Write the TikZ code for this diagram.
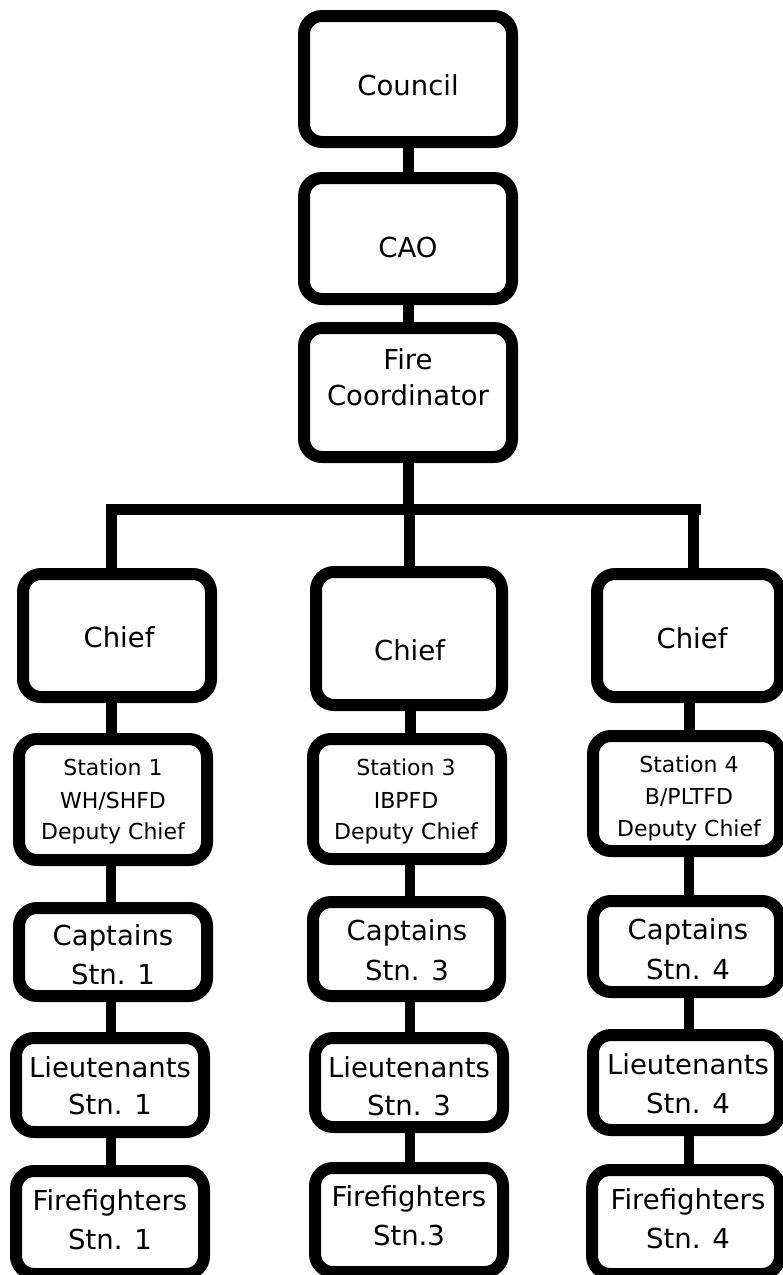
\documentclass[tikz,border=0pt]{standalone}
\usepackage{fontspec}
\setmainfont{DejaVu Sans}
\begin{document}
\begin{tikzpicture}[x=1pt,y=-1pt,
  orgbox/.style={draw=black, line width=12pt, rounded corners=18pt, fill=white, inner sep=0pt},
  big/.style={font=\fontsize{27.5}{36}\selectfont, anchor=base, inner sep=0pt},
  small/.style={font=\fontsize{22}{32}\selectfont, anchor=base, inner sep=0pt},
  link/.style={line width=11pt, line cap=butt},
  thin link/.style={line width=10pt, line cap=butt}]
\useasboundingbox (0,0) rectangle (783,1275);
\clip (0,0) rectangle (783,1275);

% top column
\node[orgbox, minimum width=208pt, minimum height=126pt] (council) at (408,79) {};
\node[orgbox, minimum width=208pt, minimum height=121pt] (cao) at (408,238.5) {};
\node[orgbox, minimum width=208pt, minimum height=129pt] (fc) at (408,392.5) {};

% chiefs
\node[orgbox, minimum width=188pt, minimum height=123pt] (chief1) at (117,635.5) {};
\node[orgbox, minimum width=186pt, minimum height=133pt] (chief3) at (409,638.5) {};
\node[orgbox, minimum width=183pt, minimum height=123pt] (chief4) at (688.5,635.5) {};

% deputies
\node[orgbox, minimum width=188pt, minimum height=121pt] (dep1) at (113,799.5) {};
\node[orgbox, minimum width=188pt, minimum height=120pt] (dep3) at (407,799) {};
\node[orgbox, minimum width=187pt, minimum height=115pt] (dep4) at (686.5,793.5) {};

% captains
\node[orgbox, minimum width=188pt, minimum height=88pt] (cap1) at (113,952) {};
\node[orgbox, minimum width=187pt, minimum height=94pt] (cap3) at (406.5,949) {};
\node[orgbox, minimum width=187pt, minimum height=91pt] (cap4) at (686.5,946.5) {};

% lieutenants
\node[orgbox, minimum width=188pt, minimum height=94pt] (lt1) at (110,1085) {};
\node[orgbox, minimum width=188pt, minimum height=89pt] (lt3) at (409,1082.5) {};
\node[orgbox, minimum width=187pt, minimum height=95pt] (lt4) at (686.5,1082.5) {};

% firefighters
\node[orgbox, minimum width=188pt, minimum height=103pt] (ff1) at (110,1222.5) {};
\node[orgbox, minimum width=188pt, minimum height=104pt] (ff3) at (409,1220) {};
\node[orgbox, minimum width=188pt, minimum height=104pt] (ff4) at (686,1222) {};

% bus
\coordinate (busL) at (106,509.5);
\coordinate (busR) at (701,509.5);
\coordinate (xl) at (111.5,0);
\coordinate (xm) at (409,0);
\coordinate (xr) at (693,0);
\coordinate (cl) at (111,0);
\coordinate (cm) at (410,0);
\coordinate (cr) at (689,0);

% connectors
\draw[link] (council.south) -- (cao.north);
\draw[link] (cao.south) -- (fc.north);
\draw[link] (fc.south) -- (fc.south |- busL);
\draw[link] (busL) -- (busR);
\draw[link] (xl |- busL) -- (chief1.north -| xl);
\draw[link] (xm |- busL) -- (chief3.north -| xm);
\draw[link] (xr |- busL) -- (chief4.north -| xr);

\draw[link] (chief1.south -| cl) -- (dep1.north -| cl);
\draw[link] (chief3.south -| cm) -- (dep3.north -| cm);
\draw[link] (chief4.south -| cr) -- (dep4.north -| cr);

\draw[thin link] (dep1.south -| cl) -- (cap1.north -| cl);
\draw[thin link] (dep3.south -| cm) -- (cap3.north -| cm);
\draw[thin link] (dep4.south -| cr) -- (cap4.north -| cr);

\draw[thin link] (cap1.south -| cl) -- (lt1.north -| cl);
\draw[thin link] (cap3.south -| cm) -- (lt3.north -| cm);
\draw[thin link] (cap4.south -| cr) -- (lt4.north -| cr);

\draw[thin link] (lt1.south -| cl) -- (ff1.north -| cl);
\draw[thin link] (lt3.south -| cm) -- (ff3.north -| cm);
\draw[thin link] (lt4.south -| cr) -- (ff4.north -| cr);

% texts
\node[big] (tcouncil) at (408,95) {Council};
\node[big] (tcao) at (408,257) {CAO};
\node[big] (tfc1) at (408,369) {Fire};
\node[big] (tfc2) at (408,405) {Coordinator};

\node[big] (tch1) at (119,647) {Chief};
\node[big] (tch3) at (409.5,660) {Chief};
\node[big] (tch4) at (692,648) {Chief};

\node[small] (td1a) at (113,775) {Station 1};
\node[small] (td1b) at (113,808) {WH/SHFD};
\node[small] (td1c) at (113,839) {Deputy Chief};
\node[small] (td3a) at (406,775) {Station 3};
\node[small] (td3b) at (406,808) {IBPFD};
\node[small] (td3c) at (406,839) {Deputy Chief};
\node[small] (td4a) at (689,772) {Station 4};
\node[small] (td4b) at (689,804) {B/PLTFD};
\node[small] (td4c) at (689,836) {Deputy Chief};

\node[big] (tc1a) at (113,945) {Captains};
\node[big] (tc1b) at (113,984) {Stn. 1};
\node[big] (tc3a) at (407,940) {Captains};
\node[big] (tc3b) at (407,980) {Stn. 3};
\node[big] (tc4a) at (688,939) {Captains};
\node[big] (tc4b) at (688,979) {Stn. 4};

\node[big] (tl1a) at (110,1077) {Lieutenants};
\node[big] (tl1b) at (110,1114) {Stn. 1};
\node[big] (tl3a) at (409,1077) {Lieutenants};
\node[big] (tl3b) at (409,1115) {Stn. 3};
\node[big] (tl4a) at (688,1074) {Lieutenants};
\node[big] (tl4b) at (688,1113) {Stn. 4};

\node[big] (tf1a) at (110,1210) {Firefighters};
\node[big] (tf1b) at (110,1249) {Stn. 1};
\node[big] (tf3a) at (409,1206) {Firefighters};
\node[big] (tf3b) at (409,1245) {Stn.3};
\node[big] (tf4a) at (688,1209) {Firefighters};
\node[big] (tf4b) at (688,1248) {Stn. 4};
\end{tikzpicture}
\end{document}
